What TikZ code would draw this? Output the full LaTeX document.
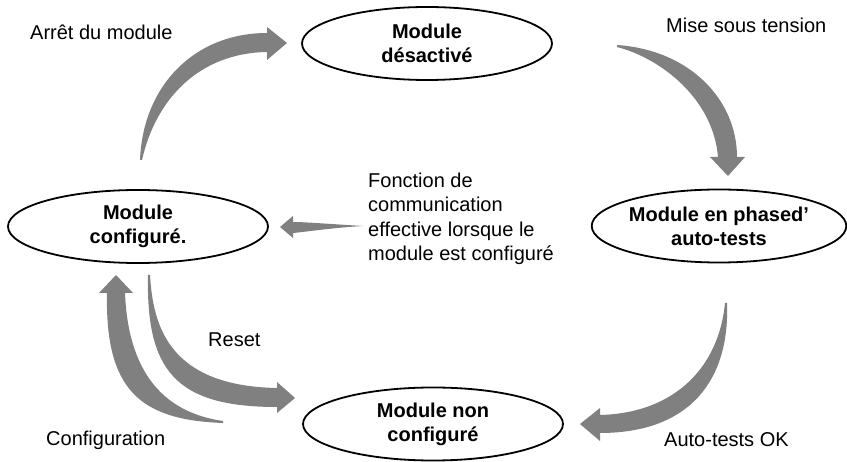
\documentclass[tikz,border=0pt]{standalone}
\usepackage{fontspec}
\setmainfont{Liberation Sans}
\usetikzlibrary{shapes.geometric}
\definecolor{flechegris}{RGB}{128,128,128}

\begin{document}
\begin{tikzpicture}[x=1pt, y=-1pt, line join=round,
	etat/.style={ellipse, draw, line width=1.8pt, inner sep=0pt, minimum width=#1,
		minimum height=73pt, align=center, font=\fontsize{20}{24}\selectfont\bfseries},
	fleche/.style={fill=flechegris, draw=none},
	texte/.style={anchor=west, align=left, inner sep=0pt, font=\fontsize{20}{24.5}\selectfont}]
	\useasboundingbox (0,0) rectangle (847,462);
	
	% les quatre etats
	\node[etat=250pt] (desactive) at (427,43.5) {Module\\désactivé};
	\node[etat=254pt] (autotest) at (719,226) {Module en phased'\\auto-tests};
	\node[etat=260pt] (configure) at (138,226.5) {Module\\configuré.};
	\node[etat=260pt] (nonconf) at (433,424) {Module non\\configuré};
	
	% fleches
	\fill[fleche] (140,160) .. controls (143,85) and (195,33) .. (267,33) -- (267,27) -- (287,43)
		-- (267,60) -- (267,52) .. controls (200,53) and (156,98) .. (142,160) -- cycle;
	\fill[fleche] (617,45) .. controls (690,50) and (737,100) .. (737,157) -- (745,157) -- (728,176)
		-- (710,157) -- (718,157) .. controls (713,98) and (660,58) .. (617,47) -- cycle;
	\fill[fleche] (727,303) .. controls (730,380) and (690,433) .. (600,433) -- (600,441) -- (580,424)
		-- (600,408) -- (600,415) .. controls (676,413) and (719,366) .. (725,303) -- cycle;
	\fill[fleche] (148,275) .. controls (146,370) and (175,407) .. (277,407) -- (277,413) -- (295,398)
		-- (277,382) -- (277,388) .. controls (168,386) and (153,325) .. (150,275) -- cycle;
	\fill[fleche] (223,423) .. controls (140,420) and (105,390) .. (107,293) -- (99,293) -- (116,275)
		-- (133,293) -- (125,293) .. controls (128,368) and (160,412) .. (223,421) -- cycle;
	\fill[fleche] (363,226) .. controls (330,224) and (305,222) .. (293,222) -- (293,216) -- (280,227)
		-- (293,238) -- (293,233) .. controls (305,232) and (330,228) .. (363,226) -- cycle;
	
	% textes
	\node[texte] (arret) at (30,32) {Arrêt du module};
	\node[texte] (tension) at (666,25) {Mise sous tension};
	\node[texte] (fonction) at (368,219) {Fonction de\\communication\\effective lorsque le\\module est configuré};
	\node[texte] (reset) at (208,340) {Reset};
	\node[texte] (config) at (46,440) {Configuration};
	\node[texte] (autotests) at (664,440) {Auto-tests OK};
\end{tikzpicture}
\end{document}
